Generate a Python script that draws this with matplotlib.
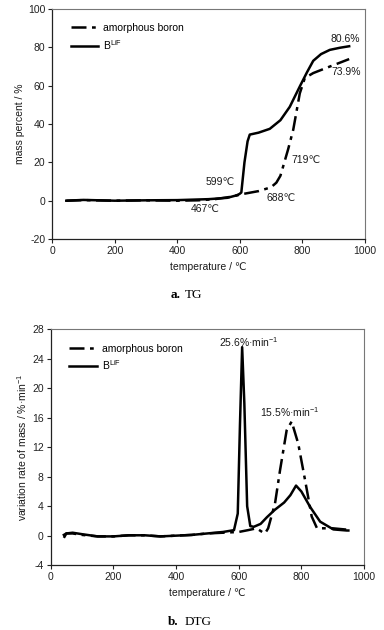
import matplotlib
matplotlib.use('Agg')
import matplotlib.pyplot as plt
import numpy as np

plt.rcParams['font.family'] = ['Liberation Sans', 'DejaVu Sans']
plt.rcParams['mathtext.fontset'] = 'custom'
plt.rcParams['mathtext.rm'] = 'Liberation Sans'
plt.rcParams['mathtext.it'] = 'Liberation Sans'
plt.rcParams['axes.unicode_minus'] = False
plt.rcParams['font.size'] = 7.5

# TG curves (temperature in C, mass percent)
tg_blif_t = [45, 100, 200, 300, 400, 500, 560, 590, 599, 605, 615, 625, 632, 660, 696, 730, 760, 792, 815, 835, 860, 888, 920, 950]
tg_blif_m = [0.0, 0.4, 0.0, 0.2, 0.3, 0.8, 1.5, 2.8, 3.5, 4.3, 20.0, 31.0, 34.5, 35.5, 37.5, 42.0, 49.0, 59.6, 67.0, 73.0, 76.5, 78.7, 79.8, 80.6]
tg_amor_t = [45, 100, 200, 300, 400, 467, 520, 570, 610, 660, 700, 717, 730, 739, 755, 771, 792, 808, 835, 888, 920, 950]
tg_amor_m = [0.0, 0.3, 0.0, 0.2, 0.0, 0.2, 0.8, 2.0, 3.5, 5.0, 7.0, 9.4, 13.0, 18.0, 27.0, 37.0, 56.0, 64.0, 66.6, 70.0, 72.0, 73.9]

# DTG curves (temperature in C, rate %/min)
dtg_blif_t = [42, 50, 70, 100, 150, 200, 250, 300, 350, 400, 450, 500, 550, 585, 597, 604, 611, 618, 627, 637, 648, 670, 690, 715, 745, 765, 783, 800, 828, 860, 902, 945, 950]
dtg_blif_v = [0.1, 0.3, 0.4, 0.2, -0.1, -0.1, 0.05, 0.05, -0.1, 0.0, 0.1, 0.3, 0.5, 0.75, 3.0, 15.0, 25.6, 18.0, 4.0, 1.3, 1.2, 1.6, 2.5, 3.5, 4.5, 5.5, 6.8, 6.0, 3.9, 1.9, 0.85, 0.7, 0.7]
dtg_amor_t = [42, 50, 70, 100, 150, 200, 250, 300, 350, 400, 450, 500, 550, 600, 630, 657, 675, 684, 694, 716, 732, 753, 769, 790, 812, 833, 850, 900, 950]
dtg_amor_v = [-0.3, 0.3, 0.3, 0.1, -0.1, -0.1, 0.05, 0.05, -0.1, 0.0, 0.1, 0.3, 0.4, 0.5, 0.75, 1.0, 0.5, 0.3, 1.0, 4.4, 8.9, 14.3, 15.5, 12.5, 7.5, 2.6, 1.0, 1.0, 0.8]

dashdot = (0, (6, 2.2, 1.5, 2.2))
ink = '#1a1a1a'
fs = 7.5
fig = plt.figure(figsize=(3.84, 6.3), dpi=100)


def style_axes(ax, ylim, yticks):
    ax.set_xlim(0, 1000)
    ax.set_xticks([0, 200, 400, 600, 800, 1000])
    ax.set_ylim(*ylim)
    ax.set_yticks(yticks)
    for s in ['left', 'bottom']:
        ax.spines[s].set_color('#222222')
        ax.spines[s].set_linewidth(0.9)
    for s in ['top', 'right']:
        ax.spines[s].set_color('#777777')
        ax.spines[s].set_linewidth(0.8)
    ax.tick_params(direction='out', length=3, width=0.8, colors='#222222', labelsize=fs, pad=2)
    ax.set_xlabel('temperature / \u2103', fontsize=fs, color=ink, labelpad=4)
    ax.legend(loc='upper left', bbox_to_anchor=(0.03, 0.98), frameon=False, fontsize=fs,
              handlelength=2.6, handletextpad=0.5, labelspacing=0.45)


# a. TG
ax1 = fig.add_axes([0.136, 0.6206, 0.814, 0.365])
ax1.plot(tg_amor_t, tg_amor_m, color='black', lw=1.8, linestyle=dashdot, label='amorphous boron')
ax1.plot(tg_blif_t, tg_blif_m, color='black', lw=1.8, label='B$^{\\mathrm{LiF}}$')
style_axes(ax1, (-20, 100), [-20, 0, 20, 40, 60, 80, 100])
ax1.set_ylabel('mass percent / %', fontsize=fs, color=ink, labelpad=2)
ax1.text(537, 9.7, '599\u2103', ha='center', va='center', fontsize=fs, color=ink)
ax1.text(488, -4.4, '467\u2103', ha='center', va='center', fontsize=fs, color=ink)
ax1.text(733, 1.3, '688\u2103', ha='center', va='center', fontsize=fs, color=ink)
ax1.text(813, 21, '719\u2103', ha='center', va='center', fontsize=fs, color=ink)
ax1.text(938, 84.3, '80.6%', ha='center', va='center', fontsize=fs, color=ink)
ax1.text(941, 67.4, '73.9%', ha='center', va='center', fontsize=fs, color=ink)

# b. DTG
ax2 = fig.add_axes([0.132, 0.103, 0.816, 0.374])
ax2.plot(dtg_amor_t, dtg_amor_v, color='black', lw=1.8, linestyle=dashdot, label='amorphous boron')
ax2.plot(dtg_blif_t, dtg_blif_v, color='black', lw=1.8, label='B$^{\\mathrm{LiF}}$')
style_axes(ax2, (-4, 28), [-4, 0, 4, 8, 12, 16, 20, 24, 28])
ax2.set_ylabel('variation rate of mass / %\u00b7min$^{-1}$', fontsize=fs, color=ink, labelpad=2)
ax2.text(631, 26.3, '25.6%\u00b7min$^{-1}$', ha='center', va='center', fontsize=fs, color=ink)
ax2.text(764, 16.8, '15.5%\u00b7min$^{-1}$', ha='center', va='center', fontsize=fs, color=ink)

# captions
fig.text(0.471, 1 - 295 / 630, 'a.', ha='right', va='center', fontsize=9.5, fontweight='bold', family='Liberation Serif')
fig.text(0.482, 1 - 295 / 630, 'TG', ha='left', va='center', fontsize=9.5, family='Liberation Serif')
fig.text(0.466, 1 - 622 / 630, 'b.', ha='right', va='center', fontsize=9.5, fontweight='bold', family='Liberation Serif')
fig.text(0.482, 1 - 622 / 630, 'DTG', ha='left', va='center', fontsize=9.5, family='Liberation Serif')

fig.savefig('out.png', dpi=100)
